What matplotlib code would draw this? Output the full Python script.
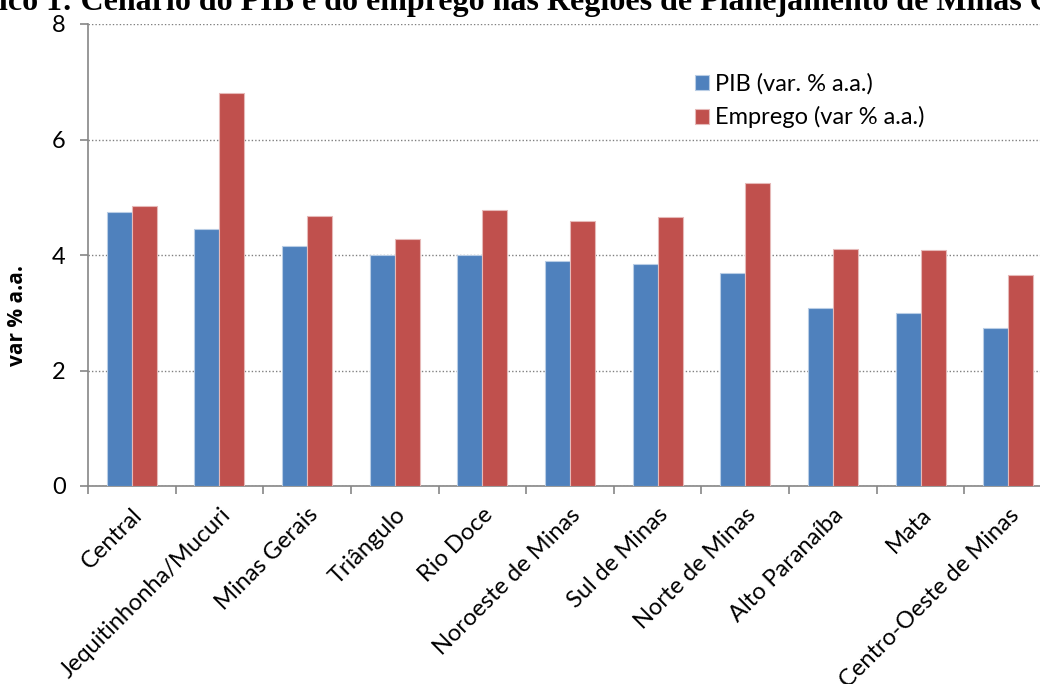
import matplotlib
matplotlib.use("Agg")
import matplotlib.pyplot as plt
import numpy as np

categories = ["Central", "Jequitinhonha/Mucuri", "Minas Gerais", "Triângulo", "Rio Doce",
              "Noroeste de Minas", "Sul de Minas", "Norte de Minas", "Alto Paranaíba",
              "Mata", "Centro-Oeste de Minas"]
pib = [4.74, 4.45, 4.15, 4.00, 4.00, 3.89, 3.85, 3.68, 3.08, 3.00, 2.74]
emprego = [4.84, 6.81, 4.67, 4.28, 4.78, 4.59, 4.66, 5.25, 4.10, 4.09, 3.66]
series_labels = ["PIB (var. % a.a.)", "Emprego (var % a.a.)"]
yticks = [0, 2, 4, 6, 8]
title = "Gráfico 1: Cenário do PIB e do emprego nas Regiões de Planejamento de Minas Gerais"

W, H = 1040, 684
fig = plt.figure(figsize=(W / 100, H / 100), dpi=100)
ax = fig.add_axes([88 / W, (H - 486) / H, (1052 - 88) / W, (486 - 24) / H])

x = np.arange(len(categories))
bw = 0.285
ax.bar(x + 0.5 - bw / 2, pib, bw, color="#4F81BD", edgecolor="#B9CDE5", linewidth=0.8,
       label=series_labels[0], zorder=3)
ax.bar(x + 0.5 + bw / 2, emprego, bw, color="#C0504D", edgecolor="#E6B9B8", linewidth=0.8,
       label=series_labels[1], zorder=3)

ax.set_xlim(0, len(categories))
ax.set_ylim(0, 8)
ax.set_yticks(yticks)
ax.set_xticks(np.arange(len(categories) + 1))
ax.set_xticklabels([])
ax.set_xticks(x + 0.5, minor=True)
ax.set_xticklabels(categories, minor=True, rotation=45, ha="right", va="top",
                   rotation_mode="anchor", fontsize=17, family="Lato")
ax.tick_params(axis="x", which="minor", length=0, pad=13)
ax.tick_params(axis="x", which="major", length=6, color="#868686", width=1.2)
ax.tick_params(axis="y", length=6, color="#868686", width=1.2, labelsize=17, pad=10)
for lab in ax.get_yticklabels():
    lab.set_family("Lato")

for s in ["top", "right"]:
    ax.spines[s].set_visible(False)
for s in ["left", "bottom"]:
    ax.spines[s].set_color("#868686")
    ax.spines[s].set_linewidth(1.2)

ax.yaxis.grid(True, linestyle=(0, (1, 1.5)), color="#808080", linewidth=1.0, zorder=0)
ax.set_axisbelow(True)

ax.set_ylabel("var % a.a.", fontsize=15, fontweight="bold", family="Open Sans")
ax.yaxis.set_label_coords((28 - 88) / 964, (486 - 315) / 462)

leg = fig.legend(loc="upper left", bbox_to_anchor=(695 / W, 1 - 73 / H), frameon=False,
                 prop={"family": "Lato", "size": 17}, handlelength=0.6, handleheight=0.6,
                 handletextpad=0.25, labelspacing=0.5, borderaxespad=0, borderpad=0)

# title, clipped at the top edge like the reference
t = fig.text(0, 1 - 10 / H, title, fontsize=23, fontweight="bold", family="Liberation Serif",
             ha="left", va="baseline")
fig.canvas.draw()
r = fig.canvas.get_renderer()
tmp = fig.text(0, 0, "Gráf", fontsize=23, fontweight="bold", family="Liberation Serif")
wpx = tmp.get_window_extent(r).width
tmp.remove()
t.set_x(-(wpx + 1) / W)

fig.savefig("out.png", dpi=100)
